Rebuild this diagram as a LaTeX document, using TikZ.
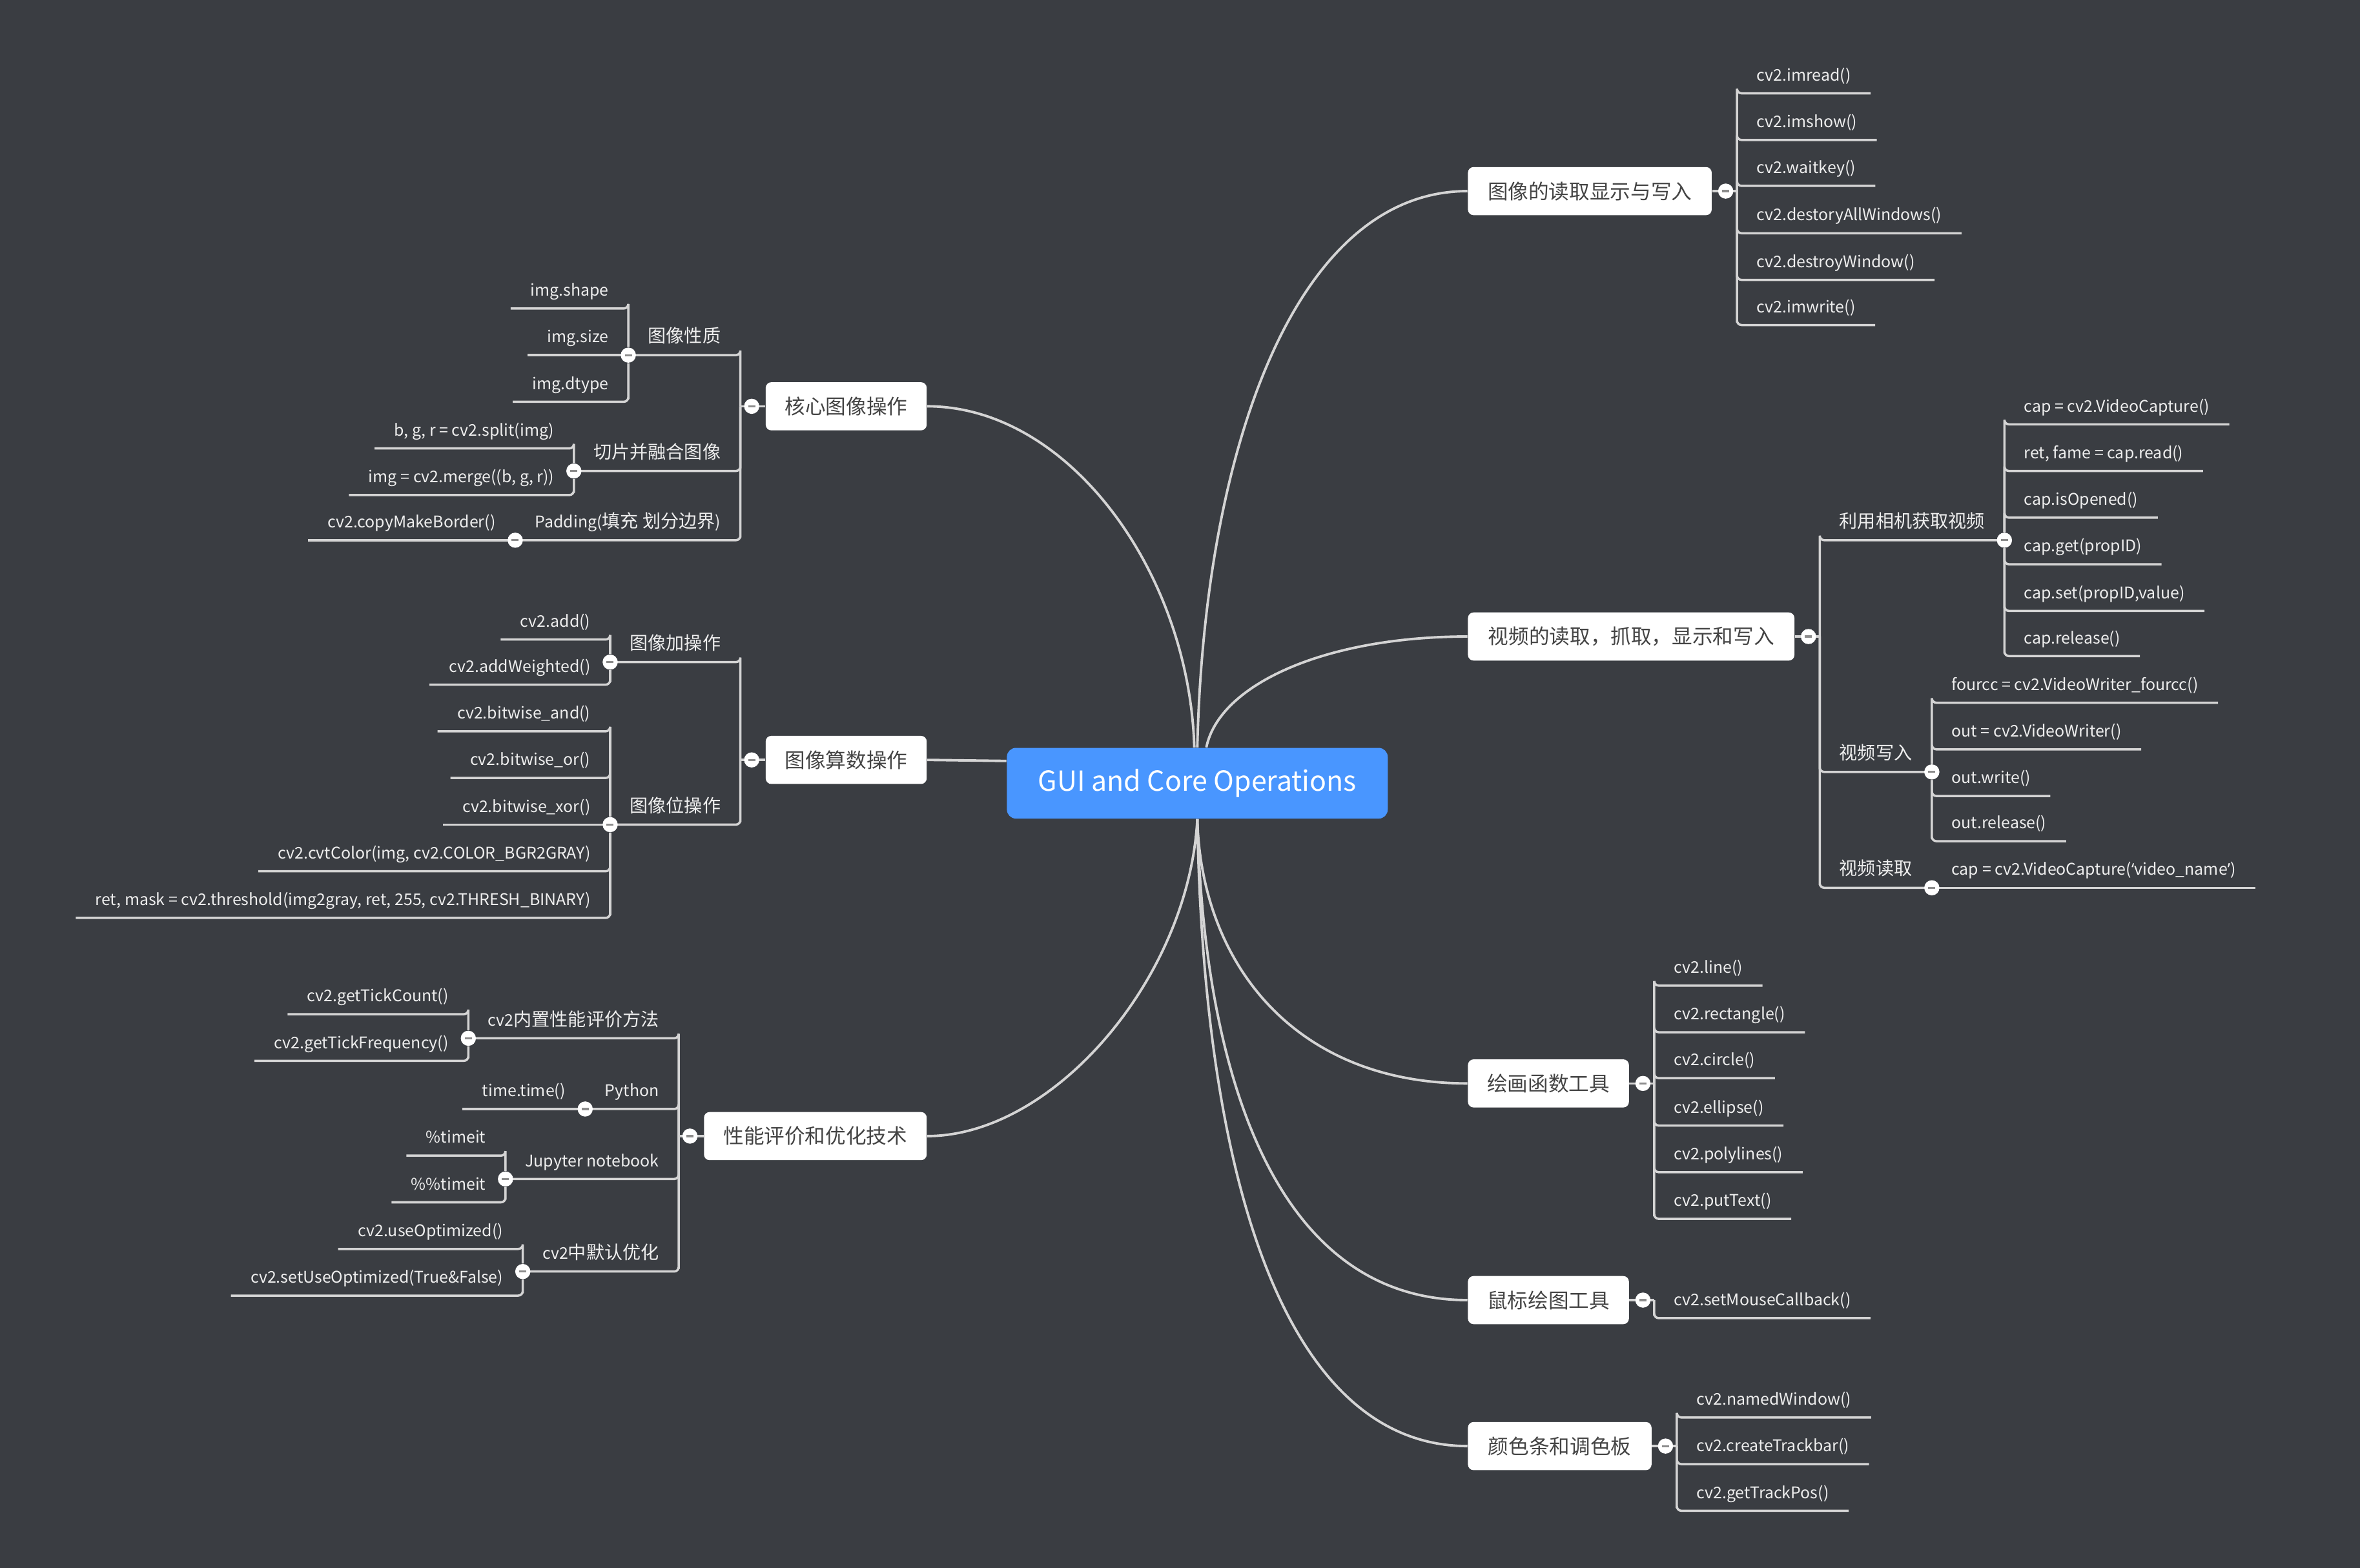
\documentclass[tikz,border=0pt]{standalone}
\usepackage{fontspec}
\setmainfont{Noto Sans CJK SC}
\newfontfamily\quotefont{Noto Sans}
\usetikzlibrary{calc}

\definecolor{bgcol}{RGB}{58,61,66}
\definecolor{linecol}{RGB}{212,212,212}
\definecolor{leaftext}{RGB}{238,238,238}
\definecolor{nodetext}{RGB}{68,68,68}
\definecolor{rootcol}{RGB}{73,150,255}
\definecolor{minuscol}{RGB}{140,140,140}

\pgfdeclarelayer{bg}
\pgfdeclarelayer{lines}
\pgfsetlayers{bg,lines,main}

% Chinese characters in the small labels are set a little larger than Latin
\newcommand\zh[1]{{\fontsize{8}{9.6}\selectfont #1}}

\tikzset{
  conn/.style={draw=linecol, line width=1pt},
  trunk/.style={draw=linecol, line width=1.1pt},
  root/.style={fill=rootcol, text=white, rounded corners=4pt,
    minimum width=5.9cm, minimum height=1.096cm, inner sep=0pt,
    font=\fontsize{12.2}{14}\selectfont},
  topic/.style={fill=white, text=nodetext, rounded corners=2.5pt,
    minimum height=0.746cm, inner xsep=4pt, inner ysep=0pt,
    font=\fontsize{9}{11}\selectfont},
  leaf/.style={text=leaftext, inner xsep=8.5pt, inner ysep=5.3pt,
    text depth=0pt, font=\fontsize{7.1}{8.5}\selectfont},
  rleaf/.style={leaf, anchor=south west},
  lleaf/.style={leaf, anchor=south east},
  btn/.style={circle, fill=white, minimum size=0.235cm, inner sep=0pt,
    path picture={\draw[minuscol, line width=0.9pt]
      ([xshift=-0.055cm]path picture bounding box.center) --
      ([xshift=0.055cm]path picture bounding box.center);}},
}

% leaf to the right of a junction: name, junction, y, text
\newcommand\rkid[4]{%
  \node[rleaf] (#1) at (#2 |- 0,#3) {#4};
  \begin{pgfonlayer}{lines}
    \draw[conn, rounded corners=2pt] (#2) |- (#1.south west) -- (#1.south east);
  \end{pgfonlayer}}
\newcommand\rkidS[4]{%
  \node[rleaf] (#1) at (#2 |- 0,#3) {#4};
  \begin{pgfonlayer}{lines}
    \draw[conn] (#2) -- (#1.south west) -- (#1.south east);
  \end{pgfonlayer}}
\newcommand\rgrp[4]{%
  \rkid{#1}{#2}{#3}{#4}%
  \node[btn] (#1b) at (#1.south east) {};}

% leaf to the left of a junction
\newcommand\lkid[4]{%
  \node[lleaf] (#1) at (#2 |- 0,#3) {#4};
  \begin{pgfonlayer}{lines}
    \draw[conn, rounded corners=2pt] (#2) |- (#1.south east) -- (#1.south west);
  \end{pgfonlayer}}
\newcommand\lkidS[4]{%
  \node[lleaf] (#1) at (#2 |- 0,#3) {#4};
  \begin{pgfonlayer}{lines}
    \draw[conn] (#2) -- (#1.south east) -- (#1.south west);
  \end{pgfonlayer}}
\newcommand\lgrp[4]{%
  \lkid{#1}{#2}{#3}{#4}%
  \node[btn] (#1b) at (#1.south west) {};}

\begin{document}
\begin{tikzpicture}[x=0.02331cm, y=-0.02332cm]
\begin{pgfonlayer}{bg}
  \fill[bgcol] (0,0) rectangle (1568,1042);
\end{pgfonlayer}
\useasboundingbox (0,0) rectangle (1568,1042);

% central topic
\node[root] (c) at (795.5,520.5) {GUI and Core Operations};

% main topics, right
\node[topic, anchor=west, minimum width=3.776cm] (r1) at (975,127) {图像的读取显示与写入};
\node[topic, anchor=west, minimum width=5.058cm] (r2) at (975,423) {视频的读取，抓取，显示和写入};
\node[topic, anchor=west, minimum width=2.494cm] (r3) at (975,720) {绘画函数工具};
\node[topic, anchor=west, minimum width=2.494cm] (r4) at (975,864) {鼠标绘图工具};
\node[topic, anchor=west, minimum width=2.844cm] (r5) at (975,961) {颜色条和调色板};
% main topics, left
\node[topic, anchor=east, minimum width=2.494cm] (l1) at (616,270) {核心图像操作};
\node[topic, anchor=east, minimum width=2.494cm] (l2) at (616,505) {图像算数操作};
\node[topic, anchor=east, minimum width=3.45cm] (l3) at (616,755) {性能评价和优化技术};

% collapse buttons and bracket junctions
\foreach \t in {r1,r2,r3,r4,r5}{
  \node[btn] (\t b) at ($(\t.east)+(9,0)$) {};
  \coordinate (\t j) at ($(\t.east)+(16.5,0)$);
}
\foreach \t in {l1,l2,l3}{
  \node[btn] (\t b) at ($(\t.west)+(-9,0)$) {};
  \coordinate (\t j) at ($(\t.west)+(-16.5,0)$);
}

\begin{pgfonlayer}{lines}
  \draw[trunk] (c.north) .. controls (800,300) and (860,127) .. (r1.west);
  \draw[trunk] ($(c.north)+(6,0)$) .. controls (810,455) and (880,423) .. (r2.west);
  \draw[trunk] (c.south) .. controls (798,640) and (860,720) .. (r3.west);
  \draw[trunk] (c.south) .. controls (800,720) and (850,864) .. (r4.west);
  \draw[trunk] (c.south) .. controls (800,800) and (860,961) .. (r5.west);
  \draw[trunk] (l1.east) .. controls (710,270) and (790,380) .. ($(c.north)+(-2,0)$);
  \draw[trunk] (l2.east) -- ($(c.north west)+(0,9)$);
  \draw[trunk] (l3.east) .. controls (700,755) and (790,650) .. (c.south);
  \foreach \t in {r1,r2,r3,r4,r5}{ \draw[conn] (\t.east) -- (\t j); }
  \foreach \t in {l1,l2,l3}{ \draw[conn] (\t.west) -- (\t j); }
\end{pgfonlayer}

% image reading / display / writing
\rkid{a1}{r1j}{62}{cv2.imread()}
\rkid{a2}{r1j}{93}{cv2.imshow()}
\rkid{a3}{r1j}{123.5}{cv2.waitkey()}
\rkid{a4}{r1j}{155}{cv2.destoryAllWindows()}
\rkid{a5}{r1j}{186}{cv2.destroyWindow()}
\rkid{a6}{r1j}{216}{cv2.imwrite()}

% video
\rgrp{cam}{r2j}{359}{\zh{利用相机获取视频}}
\rkid{cam1}{camb}{282}{cap = cv2.VideoCapture()}
\rkid{cam2}{camb}{313}{ret, fame = cap.read()}
\rkid{cam3}{camb}{344}{cap.isOpened()}
\rkid{cam4}{camb}{375}{cap.get(propID)}
\rkid{cam5}{camb}{406}{cap.set(propID,value)}
\rkid{cam6}{camb}{436}{cap.release()}
\rgrp{vw}{r2j}{513}{\zh{视频写入}}
\rkid{vw1}{vwb}{467}{fourcc = cv2.VideoWriter\_fourcc()}
\rkid{vw2}{vwb}{498}{out = cv2.VideoWriter()}
\rkid{vw3}{vwb}{529}{out.write()}
\rkid{vw4}{vwb}{559}{out.release()}
\rgrp{vr}{r2j}{590}{\zh{视频读取}}
\rkidS{vr1}{vrb}{590}{cap = cv2.VideoCapture({\quotefont ‘}video\_name{\quotefont ’})}

% drawing functions
\rkid{d1}{r3j}{655}{cv2.line()}
\rkid{d2}{r3j}{686}{cv2.rectangle()}
\rkid{d3}{r3j}{716.5}{cv2.circle()}
\rkid{d4}{r3j}{748}{cv2.ellipse()}
\rkid{d5}{r3j}{779}{cv2.polylines()}
\rkid{d6}{r3j}{810}{cv2.putText()}

% mouse
\rkid{m1}{r4j}{876}{cv2.setMouseCallback()}

% trackbar
\rkid{t1}{r5j}{942}{cv2.namedWindow()}
\rkid{t2}{r5j}{973}{cv2.createTrackbar()}
\rkid{t3}{r5j}{1004}{cv2.getTrackPos()}

% core operations
\lgrp{prop}{l1j}{236}{\zh{图像性质}}
\lkid{prop1}{propb}{205}{img.shape}
\lkidS{prop2}{propb}{236}{img.size}
\lkid{prop3}{propb}{267}{img.dtype}
\lgrp{sm}{l1j}{313}{\zh{切片并融合图像}}
\lkid{sm1}{smb}{298}{b, g, r = cv2.split(img)}
\lkid{sm2}{smb}{329}{img = cv2.merge((b, g, r))}
\lgrp{pad}{l1j}{359}{Padding(\zh{填充 划分边界})}
\lkidS{pad1}{padb}{359}{cv2.copyMakeBorder()}

% arithmetic
\lgrp{add}{l2j}{440}{\zh{图像加操作}}
\lkid{add1}{addb}{425}{cv2.add()}
\lkid{add2}{addb}{455}{cv2.addWeighted()}
\lgrp{bit}{l2j}{548}{\zh{图像位操作}}
\lkid{bit1}{bitb}{486}{cv2.bitwise\_and()}
\lkid{bit2}{bitb}{517}{cv2.bitwise\_or()}
\lkidS{bit3}{bitb}{548}{cv2.bitwise\_xor()}
\lkid{bit4}{bitb}{579}{cv2.cvtColor(img, cv2.COLOR\_BGR2GRAY)}
\lkid{bit5}{bitb}{610}{ret, mask = cv2.threshold(img2gray, ret, 255, cv2.THRESH\_BINARY)}

% performance
\lgrp{tick}{l3j}{690}{cv2\zh{内置性能评价方法}}
\lkid{tick1}{tickb}{674}{cv2.getTickCount()}
\lkid{tick2}{tickb}{705}{cv2.getTickFrequency()}
\lgrp{py}{l3j}{737}{Python}
\lkidS{py1}{pyb}{737}{time.time()}
\lgrp{jn}{l3j}{783.5}{Jupyter notebook}
\lkid{jn1}{jnb}{768}{\%timeit}
\lkid{jn2}{jnb}{799}{\%\%timeit}
\lgrp{opt}{l3j}{845}{cv2\zh{中默认优化}}
\lkid{opt1}{optb}{830}{cv2.useOptimized()}
\lkid{opt2}{optb}{861}{cv2.setUseOptimized(True\&False)}
\end{tikzpicture}
\end{document}
